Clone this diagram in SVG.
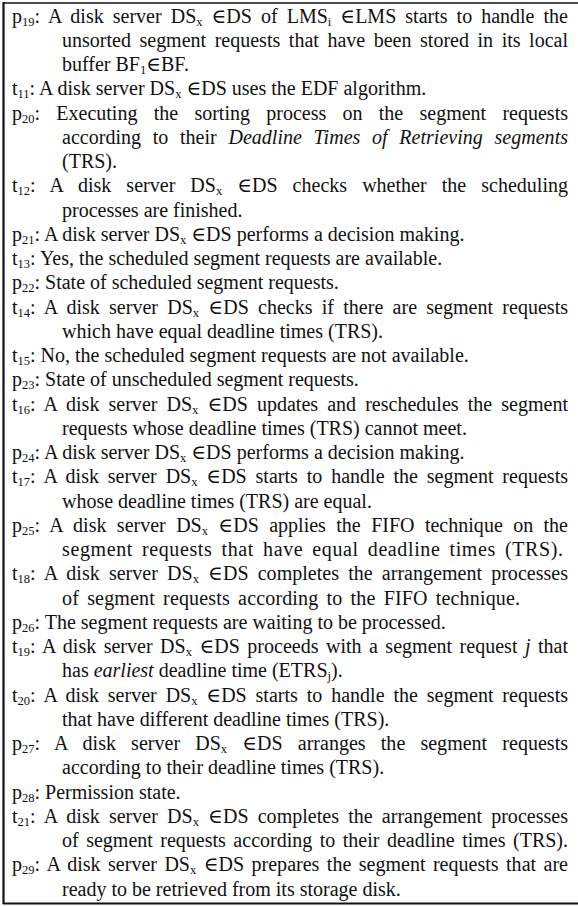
<svg xmlns="http://www.w3.org/2000/svg" width="578" height="906" viewBox="0 0 578 906">
<style>
text{font-family:"Liberation Serif","Times New Roman","DejaVu Serif",serif;font-size:20px;fill:#111}
.s{font-size:12.5px;baseline-shift:-3px}
.i{font-style:italic}
</style>
<rect x="0" y="0" width="578" height="906" fill="#fff"/>
<g id="frame" fill="none" stroke="#111">
<line x1="3" y1="3" x2="578" y2="3" stroke-width="1.5"/>
<line x1="3.5" y1="2" x2="3.5" y2="904" stroke-width="2.2"/>
<line x1="3" y1="903.5" x2="578" y2="903.5" stroke-width="2"/>
</g>
<g id="p19">
<text x="12" y="22.5" word-spacing="4.05" textLength="556" lengthAdjust="spacing">p<tspan class="s">19</tspan>: A disk server DS<tspan class="s">x</tspan> ∈DS of LMS<tspan class="s">i</tspan> ∈LMS starts to handle the</text>
<text x="62" y="46.75" word-spacing="3.57" textLength="506" lengthAdjust="spacing">unsorted segment requests that have been stored in its local</text>
<text x="62" y="71">buffer BF<tspan class="s">1</tspan>∈BF.</text>
</g>
<g id="t11">
<text x="12" y="95.25">t<tspan class="s">11</tspan>: A disk server DS<tspan class="s">x</tspan> ∈DS uses the EDF algorithm.</text>
</g>
<g id="p20">
<text x="12" y="119.5" word-spacing="11.28" textLength="556" lengthAdjust="spacing">p<tspan class="s">20</tspan>: Executing the sorting process on the segment requests</text>
<text x="62" y="143.75" word-spacing="6.66" textLength="506" lengthAdjust="spacing">according to their <tspan class="i">Deadline Times of Retrieving segments</tspan></text>
<text x="62" y="168">(TRS).</text>
</g>
<g id="t12">
<text x="12" y="192.25" word-spacing="9.97" textLength="556" lengthAdjust="spacing">t<tspan class="s">12</tspan>: A disk server DS<tspan class="s">x</tspan> ∈DS checks whether the scheduling</text>
<text x="62" y="216.5">processes are finished.</text>
</g>
<g id="p21">
<text x="12" y="240.75">p<tspan class="s">21</tspan>: A disk server DS<tspan class="s">x</tspan> ∈DS performs a decision making.</text>
</g>
<g id="t13">
<text x="12" y="265">t<tspan class="s">13</tspan>: Yes, the scheduled segment requests are available.</text>
</g>
<g id="p22">
<text x="12" y="289.25">p<tspan class="s">22</tspan>: State of scheduled segment requests.</text>
</g>
<g id="t14">
<text x="12" y="313.5" word-spacing="4.22" textLength="556" lengthAdjust="spacing">t<tspan class="s">14</tspan>: A disk server DS<tspan class="s">x</tspan> ∈DS checks if there are segment requests</text>
<text x="62" y="337.75">which have equal deadline times (TRS).</text>
</g>
<g id="t15">
<text x="12" y="362">t<tspan class="s">15</tspan>: No, the scheduled segment requests are not available.</text>
</g>
<g id="p23">
<text x="12" y="386.25">p<tspan class="s">23</tspan>: State of unscheduled segment requests.</text>
</g>
<g id="t16">
<text x="12" y="410.5" word-spacing="4.03" textLength="556" lengthAdjust="spacing">t<tspan class="s">16</tspan>: A disk server DS<tspan class="s">x</tspan> ∈DS updates and reschedules the segment</text>
<text x="62" y="434.75">requests whose deadline times (TRS) cannot meet.</text>
</g>
<g id="p24">
<text x="12" y="459">p<tspan class="s">24</tspan>: A disk server DS<tspan class="s">x</tspan> ∈DS performs a decision making.</text>
</g>
<g id="t17">
<text x="12" y="483.25" word-spacing="3.81" textLength="556" lengthAdjust="spacing">t<tspan class="s">17</tspan>: A disk server DS<tspan class="s">x</tspan> ∈DS starts to handle the segment requests</text>
<text x="62" y="507.5">whose deadline times (TRS) are equal.</text>
</g>
<g id="p25">
<text x="12" y="531.75" word-spacing="5.33" textLength="556" lengthAdjust="spacing">p<tspan class="s">25</tspan>: A disk server DS<tspan class="s">x</tspan> ∈DS applies the FIFO technique on the</text>
<text x="62" y="556" word-spacing="3.5" textLength="501" lengthAdjust="spacing">segment requests that have equal deadline times (TRS).</text>
</g>
<g id="t18">
<text x="12" y="580.25" word-spacing="4.17" textLength="556" lengthAdjust="spacing">t<tspan class="s">18</tspan>: A disk server DS<tspan class="s">x</tspan> ∈DS completes the arrangement processes</text>
<text x="62" y="604.5" word-spacing="3" textLength="458" lengthAdjust="spacing">of segment requests according to the FIFO technique.</text>
</g>
<g id="p26">
<text x="12" y="628.75">p<tspan class="s">26</tspan>: The segment requests are waiting to be processed.</text>
</g>
<g id="t19">
<text x="12" y="653" word-spacing="2.43" textLength="556" lengthAdjust="spacing">t<tspan class="s">19</tspan>: A disk server DS<tspan class="s">x</tspan> ∈DS proceeds with a segment request <tspan class="i">j</tspan> that</text>
<text x="62" y="677.25">has <tspan class="i">earliest</tspan> deadline time (ETRS<tspan class="s">j</tspan>).</text>
</g>
<g id="t20">
<text x="12" y="701.5" word-spacing="3.81" textLength="556" lengthAdjust="spacing">t<tspan class="s">20</tspan>: A disk server DS<tspan class="s">x</tspan> ∈DS starts to handle the segment requests</text>
<text x="62" y="725.75">that have different deadline times (TRS).</text>
</g>
<g id="p27">
<text x="12" y="750" word-spacing="10.1" textLength="556" lengthAdjust="spacing">p<tspan class="s">27</tspan>: A disk server DS<tspan class="s">x</tspan> ∈DS arranges the segment requests</text>
<text x="62" y="774.25">according to their deadline times (TRS).</text>
</g>
<g id="p28">
<text x="12" y="798.5">p<tspan class="s">28</tspan>: Permission state.</text>
</g>
<g id="t21">
<text x="12" y="822.75" word-spacing="4.17" textLength="556" lengthAdjust="spacing">t<tspan class="s">21</tspan>: A disk server DS<tspan class="s">x</tspan> ∈DS completes the arrangement processes</text>
<text x="62" y="847" word-spacing="2.5" textLength="506" lengthAdjust="spacing">of segment requests according to their deadline times (TRS).</text>
</g>
<g id="p29">
<text x="12" y="871.25" word-spacing="2.4" textLength="556" lengthAdjust="spacing">p<tspan class="s">29</tspan>: A disk server DS<tspan class="s">x</tspan> ∈DS prepares the segment requests that are</text>
<text x="62" y="895.5">ready to be retrieved from its storage disk.</text>
</g>
</svg>
